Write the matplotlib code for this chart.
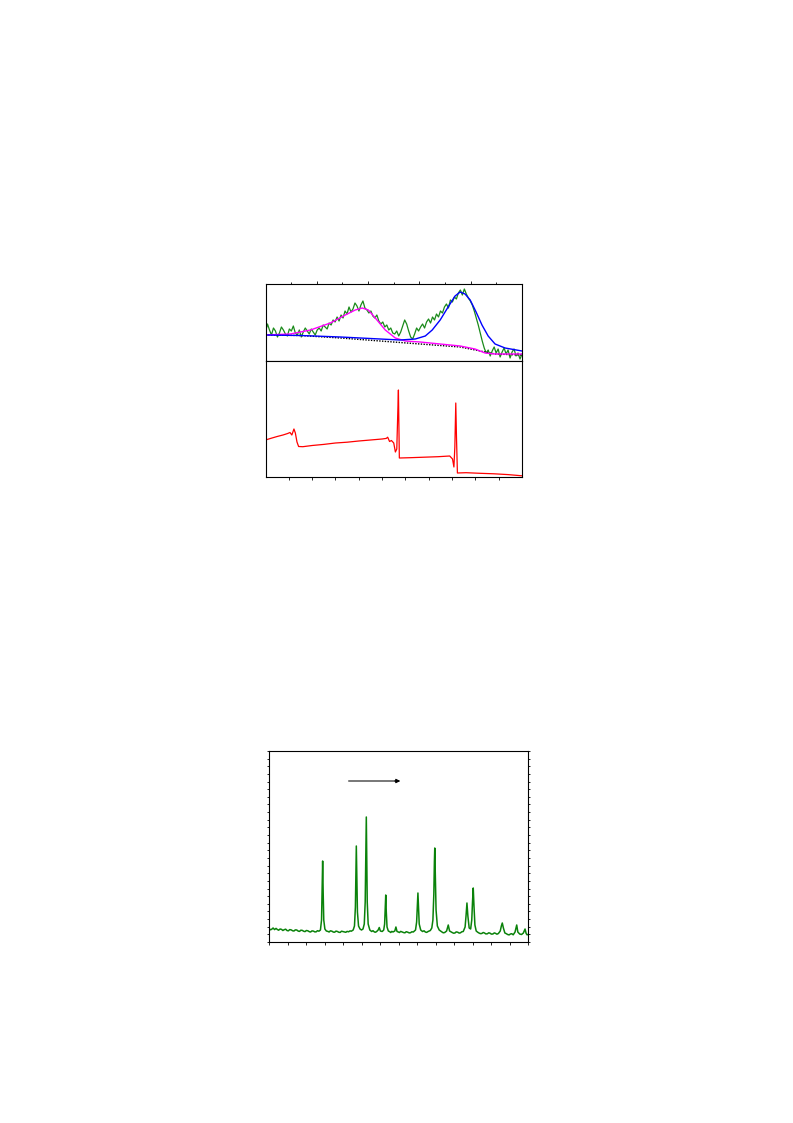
import numpy as np
import matplotlib
matplotlib.use('Agg')
import matplotlib.pyplot as plt

# ---- top figure, upper panel: noisy spectrum + fitted curves ----
spec_y = [29, 37, 31, 26, 33, 30, 24, 28, 34, 31, 27, 25, 32,
          30, 35, 28, 26, 31, 24, 29, 33, 30, 27, 32, 29, 26,
          31, 33, 30, 36, 34, 32, 38, 36, 41, 39, 44, 40, 46,
          43, 50, 47, 54, 49, 52, 58, 55, 50, 56, 60, 53, 51,
          48, 50, 45, 43, 46, 40, 37, 39, 34, 36, 31, 33, 28,
          27, 30, 25, 29, 35, 41, 37, 30, 24, 22, 27, 33, 30,
          34, 37, 33, 39, 42, 38, 44, 41, 47, 44, 50, 48, 54,
          57, 53, 61, 59, 64, 62, 68, 71, 66, 72, 67, 63, 60,
          56, 50, 43, 36, 28, 20, 13, 8, 11, 5, 10, 14, 8,
          12, 4, 9, 13, 7, 11, 3, 9, 12, 5, 8, 2, 7]
spec_x = np.linspace(0, 100, len(spec_y))

fit1_x = [0, 13.6, 29.2, 44.7, 52.5, 58.4, 62.3, 65, 68.1, 71.2, 73.9, 75.9, 77.8, 79.8, 82.1, 84.4, 86.8, 89.5, 93.4, 100]
fit1_y = [26, 25.5, 24, 22, 21, 22, 25, 31, 41, 54, 65, 69, 67, 61, 49, 36, 25, 17, 13, 10]

fit2_x = [0, 9.7, 17.5, 25.3, 31.1, 35, 37.7, 40.1, 42.8, 46.7, 50.6, 54.5, 60.3, 68.1, 75.9, 81.7, 85.6, 89.5, 100]
fit2_y = [26, 27, 31, 38, 46, 51, 53, 51, 43, 31, 23, 20, 19, 17, 15, 12, 8, 7, 7]

base_x = [0, 13.6, 29.2, 44.7, 60.3, 75.9, 83.7, 89.5, 100]
base_y = [26, 25.5, 23, 20, 17, 14, 10, 7, 6]

# ---- top figure, lower panel: red trace ----
red_x = [0, 0.25, 0.5, 0.75, 0.95, 1.05, 1.13, 1.22, 1.28, 1.35,
         1.42, 1.6, 2.0, 2.5, 3.0, 3.5, 4.0, 4.5, 5.0, 5.18,
         5.24, 5.32, 5.4, 5.5, 5.57, 5.63, 5.67, 5.70, 5.74, 6.2,
         6.8, 7.4, 7.9, 8.02, 8.08, 8.12, 8.16, 8.19, 8.23, 8.6,
         9.2, 9.8, 10.4, 11.0]
red_y = [37, 38.8, 40.5, 42, 43.5, 44.5, 42, 48, 44, 35,
         30.5, 30.3, 31.5, 32.6, 34, 34.8, 36, 37, 38, 38.6,
         39.8, 35.5, 36.5, 34, 25, 28, 62, 87, 19, 19.3,
         19.8, 20.3, 21, 18, 10, 30, 74, 40, 4, 4.3,
         3.7, 3.2, 2.4, 1.2]

# ---- bottom figure: diffraction pattern ----
xrd_x = [0.0, 0.08, 0.15, 0.22, 0.3, 0.38, 0.45, 0.52, 0.6, 0.68, 0.75, 0.82, 0.9, 0.98, 1.05, 1.12, 1.2, 1.28,
         1.35, 1.42, 1.5, 1.58, 1.65, 1.72, 1.8, 1.88, 1.95, 2.02, 2.1, 2.18, 2.25, 2.32, 2.4, 2.48, 2.55, 2.62, 2.7,
         2.78, 2.84, 2.87, 2.90, 2.93, 2.96, 3.02, 3.1,
         3.18, 3.25, 3.32, 3.4, 3.48, 3.55, 3.62, 3.7, 3.78, 3.85, 3.92, 4.0, 4.08, 4.15, 4.22, 4.3, 4.38, 4.45, 4.55,
         4.62, 4.67, 4.70, 4.72, 4.75, 4.78, 4.84, 4.92,
         5.0, 5.08, 5.15,
         5.20, 5.24, 5.26, 5.28, 5.31, 5.36, 5.45, 5.55, 5.62, 5.7, 5.76, 5.82,
         5.9, 5.96, 6.02, 6.12, 6.2,
         6.25, 6.28, 6.31, 6.34, 6.38, 6.45, 6.52, 6.58, 6.64, 6.7, 6.8,
         6.86, 6.92, 6.98, 7.05, 7.12, 7.2, 7.28, 7.35, 7.42, 7.5, 7.58, 7.65, 7.72, 7.8, 7.92,
         7.98, 8.02, 8.05, 8.08, 8.12, 8.2, 8.3, 8.38, 8.45, 8.52, 8.6, 8.72, 8.8,
         8.86, 8.91, 8.94, 8.96, 8.99, 9.03, 9.1, 9.2, 9.28, 9.35, 9.42, 9.5, 9.6,
         9.69, 9.76, 9.83, 9.9, 9.98, 10.05, 10.12, 10.2, 10.28, 10.35, 10.42, 10.5,
         10.6, 10.65, 10.7, 10.75, 10.82, 10.9, 10.96, 11.0, 11.04, 11.08, 11.13, 11.2,
         11.28, 11.35, 11.42, 11.5, 11.58, 11.65, 11.72, 11.8, 11.88, 11.95, 12.02, 12.1, 12.18, 12.25, 12.32, 12.4, 12.5,
         12.56, 12.61, 12.67, 12.75, 12.82, 12.9, 12.98, 13.05, 13.12, 13.2, 13.3,
         13.39, 13.45, 13.55, 13.65, 13.75,
         13.84, 13.9, 13.95, 14.0]
xrd_y = [13.5, 12.2, 12.8, 14, 12.4, 13.6, 12.5, 11.8, 13, 12.6, 11.5, 12.3, 12.8, 11.4, 11.2, 12.4, 12.1, 11.2,
         11, 12.1, 12, 10.9, 10.6, 11.8, 11.6, 10.7, 10.4, 11.5, 11.2, 10.3, 10, 11.1, 10.9, 10.1, 10.2, 11.3, 10.8,
         12, 22, 50, 81, 48, 22, 13, 11,
         10.6, 10, 11.2, 10.8, 9.9, 9.8, 10.9, 10.5, 9.7, 9.6, 10.8, 10.4, 9.9, 9.7, 10.6, 10.2, 11.1, 10.8, 12,
         16, 35, 70, 96, 62, 30, 16, 13,
         12, 13, 18,
         40, 95, 125, 90, 40, 18, 12, 10.5, 11.3, 10, 9.8, 10.5,
         12, 14.5, 11, 10.5, 12,
         18, 33, 47, 30, 15, 11, 10.4, 9.5, 10.6, 10, 11,
         15, 10.5, 10.1, 9.5, 10.6, 10, 9.4, 9.2, 10.3, 9.8, 9.1, 9.3, 10.2, 10, 12,
         20, 36, 49, 35, 18, 12, 10.5, 11.2, 10, 9.6, 10.5, 11.5, 14,
         22, 48, 80, 94, 68, 32, 16, 12, 10.9, 10, 9.2, 9.5, 11,
         17, 11, 10.2, 9.5, 8.8, 9, 10.1, 9.8, 8.9, 9.2, 10.2, 10.5,
         15, 26, 39, 26, 14, 13, 22, 40, 54, 36, 17, 11,
         9.8, 9, 8.4, 8.5, 9.5, 9, 8.1, 8.2, 9.2, 8.8, 7.9, 8, 9.1, 8.6, 7.8, 8.5, 11,
         16, 19, 14, 9, 8.4, 7.5, 7.1, 8, 8.3, 7.2, 10,
         17, 10, 8, 7.5, 9,
         13, 8.5, 7.2, 7.5]

W, H = 793.0, 1123.0
fig = plt.figure(figsize=(7.93, 11.23), dpi=100)

def box(l, t, r, b):
    return [l / W, 1 - b / H, (r - l) / W, (b - t) / H]

# upper panel
ax1 = fig.add_axes(box(265.5, 284, 522, 361))
ax1.plot(spec_x, spec_y, color='#1a8a1a', lw=0.9)
ax1.plot(base_x, base_y, color='black', lw=1.0, ls=(0, (1, 1)))
ax1.plot(fit2_x, fit2_y, color='#ff00ff', lw=1.0)
ax1.plot(fit1_x, fit1_y, color='#0000ff', lw=1.0)
ax1.set_xlim(0, 100)
ax1.set_ylim(0, 77)
ax1.set_xticks([20, 40, 60, 80])
ax1.set_xticks([10, 30, 50, 70, 90], minor=True)
ax1.set_yticks([])
ax1.xaxis.tick_top()
ax1.tick_params(axis='x', which='major', direction='out', length=2.5, width=0.6, labeltop=False, labelbottom=False)
ax1.tick_params(axis='x', which='minor', direction='out', length=1.5, width=0.6)

# lower panel
ax2 = fig.add_axes(box(265.5, 361, 522, 477))
ax2.plot(red_x, red_y, color='#ff0000', lw=0.9)
ax2.set_xlim(0, 11)
ax2.set_ylim(0, 116)
ax2.set_xticks([1, 3, 5, 7, 9])
ax2.set_xticks([2, 4, 6, 8, 10], minor=True)
ax2.set_yticks([])
ax2.tick_params(axis='x', which='major', direction='out', length=2.5, width=0.6, labelbottom=False)
ax2.tick_params(axis='x', which='minor', direction='out', length=2, width=0.6)

for a in (ax1, ax2):
    for s in a.spines.values():
        s.set_linewidth(0.8)

# bottom figure
ax3 = fig.add_axes(box(269, 751, 528, 942))
ax3.plot(xrd_x, xrd_y, color='#0a820a', lw=1.1)
ax3.set_xlim(0, 14)
ax3.set_ylim(0, 191)
ax3.set_xticks(np.arange(0, 15))
ax3.set_yticks(np.linspace(0, 191, 26))
ax3.tick_params(axis='x', direction='out', length=2.5, width=0.6, labelbottom=False)
ax3.tick_params(axis='y', direction='out', length=1.5, width=0.6, left=True, right=True,
                labelleft=False, labelright=False)
for s in ax3.spines.values():
    s.set_linewidth(0.8)
# arrow: grey shaft, black head
ax3.annotate('', xy=(6.95, 161), xytext=(4.32, 161),
             arrowprops=dict(arrowstyle='-', color='#777777', lw=1.4, shrinkA=0, shrinkB=0))
ax3.annotate('', xy=(7.1, 161), xytext=(6.8, 161),
             arrowprops=dict(arrowstyle='-|>', color='black', lw=0.8,
                             mutation_scale=6, shrinkA=0, shrinkB=0))

plt.savefig('out.png', dpi=100)
